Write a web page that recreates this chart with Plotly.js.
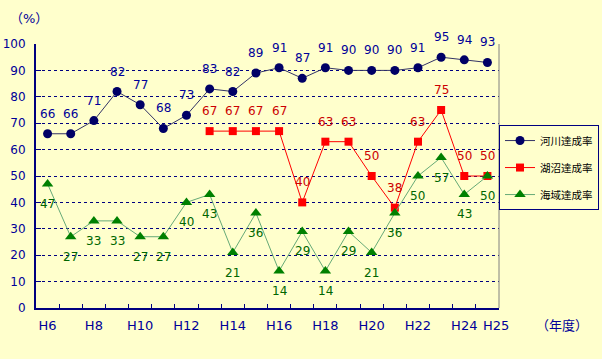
<!DOCTYPE html>
<html>
<head>
<meta charset="utf-8">
<script src="https://cdn.plot.ly/plotly-3.0.1.min.js"></script>
<style>
html,body{margin:0;padding:0;background:#FFFFCC;}
#chart{width:602px;height:359px;}
</style>
</head>
<body>
<div id="chart"></div>
<script>
const years = ['H6','H7','H8','H9','H10','H11','H12','H13','H14','H15','H16','H17','H18','H19','H20','H21','H22','H23','H24','H25'];
const riverName = '河川達成率';
const lakeName = '湖沼達成率';
const seaName = '海域達成率';
const river = [66,66,71,82,77,68,73,83,82,89,91,87,91,90,90,90,91,95,94,93];
const lake = [null,null,null,null,null,null,null,67,67,67,67,40,63,63,50,38,63,75,50,50];
const sea = [47,27,33,33,27,27,40,43,21,36,14,29,14,29,21,36,50,57,43,50];
const lastIdx = years.length - 1;
const tickLabels = years.map((y,i) => (i % 2 === 0 && i !== lastIdx) ? y : '');
const yTicks = [0,10,20,30,40,50,60,70,80,90,100];

const FONT = 'DejaVu Sans, Noto Sans CJK JP, sans-serif';

const traces = [
  {x: years, y: river, name: riverName, legendgroup: 'a', mode: 'lines+markers',
   line: {color: '#333366', width: 1},
   marker: {symbol: 'circle', size: 9, color: '#000066'}},
  {x: years, y: lake, name: lakeName, legendgroup: 'b', mode: 'lines+markers',
   line: {color: '#FF0000', width: 1},
   marker: {symbol: 'square', size: 8, color: '#FF0000'}},
  {x: years, y: sea, name: seaName, legendgroup: 'c', mode: 'lines+markers',
   line: {color: '#66AA77', width: 1},
   marker: {symbol: 'triangle-up', size: 10, color: '#008000'}}
];

function labels(arr, color, shift) {
  const out = [];
  arr.forEach((v, i) => {
    if (v === null) return;
    out.push({x: years[i], y: v, xref: 'x', yref: 'y', text: String(v), showarrow: false,
      xanchor: 'center', yanchor: 'middle', yshift: shift,
      font: {family: FONT, size: 12, color: color}});
  });
  return out;
}

const layout = {
  width: 602, height: 359,
  margin: {l: 36, r: 103, t: 44, b: 51, autoexpand: false},
  paper_bgcolor: '#FFFFCC', plot_bgcolor: '#FFFFCC',
  font: {family: FONT, size: 12, color: '#000099'},
  showlegend: true,
  legend: {x: 1.2160, xanchor: 'right', y: 0.693, yanchor: 'top',
    bgcolor: '#FFFFCC', bordercolor: '#000080', borderwidth: 1,
    font: {family: 'Noto Sans CJK JP, sans-serif', size: 10.5, color: '#000000'},
    traceorder: 'grouped', tracegroupgap: 8, itemwidth: 30},
  xaxis: {type: 'category', categoryorder: 'array', categoryarray: years,
    range: [-0.5, years.length - 0.5],
    tickmode: 'array', tickvals: years, ticktext: tickLabels, tickangle: 0,
    tickson: 'boundaries', ticks: 'inside', ticklen: 4, tickcolor: '#000080', tickwidth: 1,
    showline: true, linecolor: '#000080', linewidth: 2,
    showgrid: false, zeroline: false, fixedrange: true, ticklabelstandoff: 4,
    tickfont: {family: FONT, size: 13, color: '#000099'}},
  yaxis: {range: [0, 100], tickmode: 'array', tickvals: yTicks,
    ticks: 'inside', ticklen: 5, tickcolor: '#000080',
    showline: true, linecolor: '#000080', linewidth: 2,
    showgrid: true, gridcolor: '#000080', gridwidth: 1, griddash: 'dot',
    zeroline: false, fixedrange: true, ticklabelstandoff: 6,
    tickfont: {family: FONT, size: 12, color: '#000099'}},
  shapes: [
    {type: 'line', xref: 'paper', yref: 'paper', x0: 1, x1: 1, y0: 0, y1: 1,
     line: {color: '#808080', width: 1}}
  ],
  annotations: [
    {text: '（%）', xref: 'paper', yref: 'paper', x: -0.06, y: 1.095, xanchor: 'left', yanchor: 'middle',
     showarrow: false, font: {family: FONT, size: 13, color: '#000099'}},
    {text: '（年度）', xref: 'paper', yref: 'paper', x: 1.076, y: -0.065, xanchor: 'left', yanchor: 'middle',
     showarrow: false, font: {family: FONT, size: 13, color: '#000099'}},
    {text: years[lastIdx], xref: 'x', yref: 'paper', x: years[lastIdx], y: 0, xanchor: 'center', yanchor: 'middle',
     xshift: 9, yshift: -17, showarrow: false, font: {family: FONT, size: 13, color: '#000099'}}
  ].concat(labels(river, '#000099', 20), labels(lake, '#CC0000', 20), labels(sea, '#006600', -20))
};

Plotly.newPlot('chart', traces, layout, {displayModeBar: false, staticPlot: true});
</script>
</body>
</html>
